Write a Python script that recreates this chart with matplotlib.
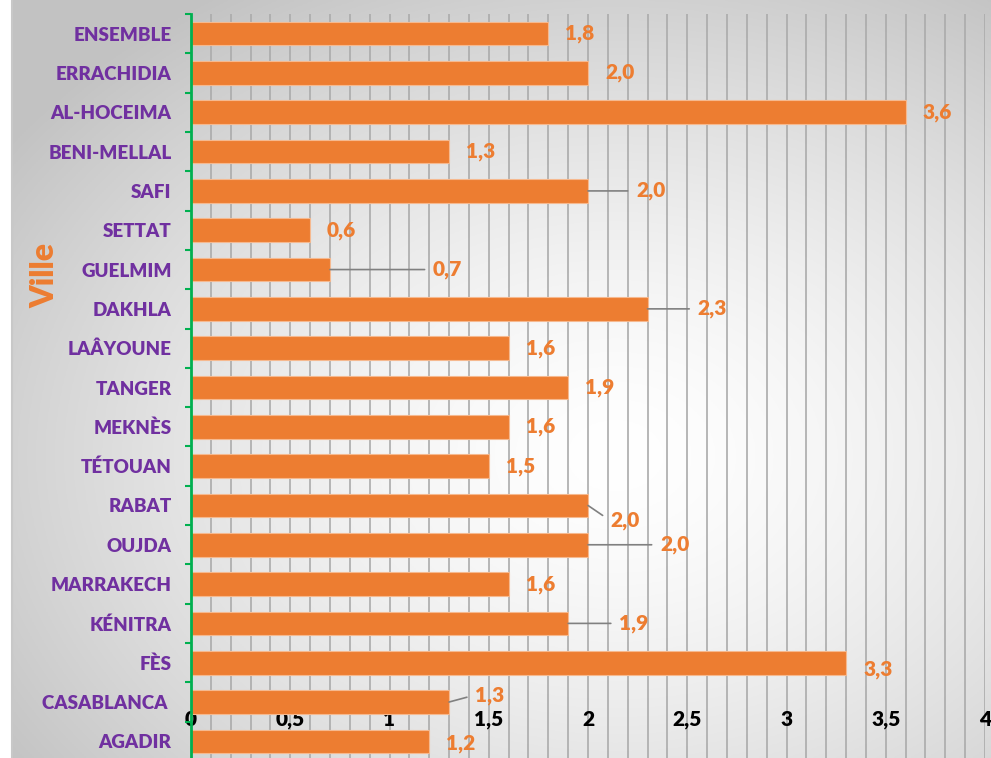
import numpy as np
import matplotlib
matplotlib.use('Agg')
import matplotlib.pyplot as plt

plt.rcParams['font.family'] = ['Lato', 'DejaVu Sans']

# donnees
villes = ['ENSEMBLE', 'ERRACHIDIA', 'AL-HOCEIMA', 'BENI-MELLAL', 'SAFI', 'SETTAT',
          'GUELMIM', 'DAKHLA', 'LAÂYOUNE', 'TANGER', 'MEKNÈS', 'TÉTOUAN', 'RABAT',
          'OUJDA', 'MARRAKECH', 'KÉNITRA', 'FÈS', 'CASABLANCA ', 'AGADIR']
valeurs = [1.8, 2.0, 3.6, 1.3, 2.0, 0.6, 0.7, 2.3, 1.6, 1.9, 1.6, 1.5, 2.0,
           2.0, 1.6, 1.9, 3.3, 1.3, 1.2]
xticks = [0, 0.5, 1, 1.5, 2, 2.5, 3, 3.5, 4]
xticklabels = ['0', '0,5', '1', '1,5', '2', '2,5', '3', '3,5', '4']

orange = '#ED7D31'
violet = '#7030A0'
vert = '#00B050'
poids = 'heavy'

# decalage des etiquettes (pixels) et lignes de rappel
decal = {'SAFI': (48, 0, True), 'GUELMIM': (103, 0, True), 'DAKHLA': (50, 0, True),
         'RABAT': (22, -15, True), 'OUJDA': (72, 0, True), 'KÉNITRA': (51, 0, True),
         'FÈS': (17, -7, False), 'CASABLANCA ': (26, 7, True), 'AGADIR': (17, -2, False)}

fig = plt.figure(figsize=(9.91, 7.58), dpi=100)

# fond degrade
bg = fig.add_axes([0, 0, 1, 1], zorder=-10)
h, w = 379, 496
yy, xx = np.mgrid[0:h, 0:w]
r = np.sqrt(((xx / w - 0.62) / 0.62) ** 2 + ((yy / h - 0.6) / 0.6) ** 2)
v = 1 - 0.18 * np.clip(r, 0, 1.2) ** 1.5
img = np.dstack([v, v, v])
img[:, :6] = 1.0
bg.imshow(img, aspect='auto', extent=[0, 1, 0, 1], origin='upper')
bg.axvline(12 / 991, color='#C8C8C8', lw=1.5)
bg.set_xlim(0, 1)
bg.set_ylim(0, 1)
bg.axis('off')

ax = fig.add_axes([191 / 991, 1 - 761 / 758, 794 / 991, 747 / 758])
ax.patch.set_alpha(0)
ax.spines['bottom'].set_position(('data', 17.2))
ax.spines['bottom'].set_visible(False)
ax.spines['top'].set_visible(False)
ax.spines['right'].set_visible(False)

y = np.arange(len(villes))
ax.barh(y, valeurs, height=0.6, color=orange, edgecolor='#F6B98F', linewidth=0.8, zorder=3)

ax.set_xlim(0, 4)
ax.set_ylim(len(villes) - 0.5, -0.5)

ax.set_xticks(xticks)
ax.set_xticklabels(xticklabels, fontsize=15, fontweight=poids, color='black', va='top')
ax.set_xticks(np.arange(0, 4.01, 0.1), minor=True)
ax.grid(which='both', axis='x', color='#ABABAB', lw=1.2, zorder=0)
ax.tick_params(axis='x', which='both', length=0, pad=0)

ax.set_yticks(y)
ax.set_yticklabels(villes, fontsize=13.5, fontweight=poids, color=violet)
ax.set_yticks(np.arange(-0.5, len(villes), 1), minor=True)
ax.tick_params(axis='y', which='major', length=0, pad=14)
ax.tick_params(axis='y', which='minor', length=4, width=1.5, color=vert, direction='out')
ax.spines['left'].set_color(vert)
ax.spines['left'].set_linewidth(2)
ax.spines['left'].set_zorder(6)

fig.text(45 / 991, 1 - 275 / 758, 'Ville', rotation=90, fontsize=23, fontweight=poids,
         color=orange, ha='center', va='center')

for i, (nom, val) in enumerate(zip(villes, valeurs)):
    dx, dy, ligne = decal.get(nom, (17, 0, False))
    props = None
    if ligne:
        props = dict(arrowstyle='-', color='#808080', lw=1.2, shrinkA=4, shrinkB=0,
                     relpos=(0, 0.5))
    ax.annotate(f'{val:.1f}'.replace('.', ','), xy=(val, i), xytext=(dx, dy),
                textcoords='offset pixels', ha='left', va='center', fontsize=15,
                fontweight=poids, color=orange, arrowprops=props, zorder=5)

fig.savefig('out.png', dpi=100)
